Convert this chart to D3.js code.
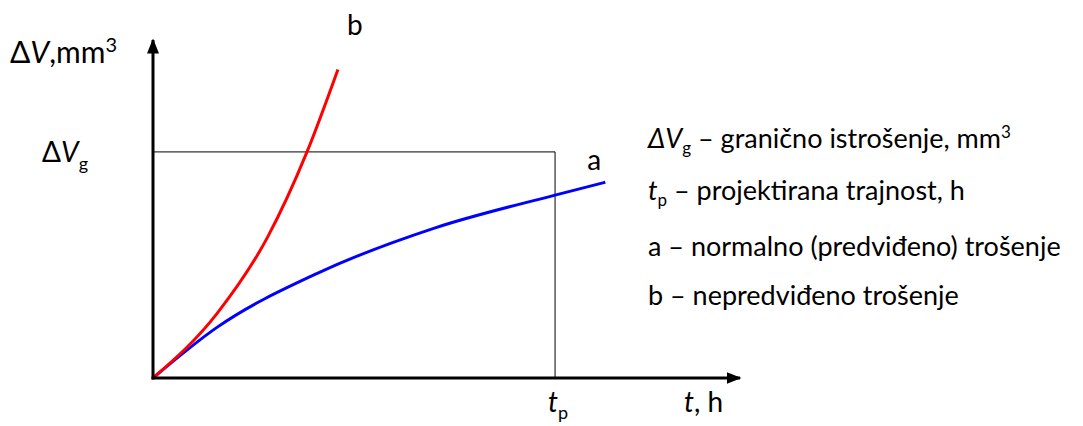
<!DOCTYPE html>
<html>
<head>
<meta charset="utf-8">
<script src="https://cdn.jsdelivr.net/npm/d3@7"></script>
<style>
  body { margin: 0; background: #fff; }
  text { font-family: Lato, "Open Sans", sans-serif; fill: #000; }
</style>
</head>
<body>
<div id="chart"></div>
<script>
// svg size
var svgWidth = 1083;
var svgHeight = 426;

// curve a - normal (expected) wear, t in units where tp = 10, V where Vg = 10
var tA = [0, 1.6, 4.1, 7.0, 10, 11.25];
var vA = [0, 2.25, 4.64, 6.63, 8.09, 8.66];

// curve b - unexpected wear
var tB = [0, 1.6, 2.85, 3.83, 4.6];
var vB = [0, 2.87, 6.23, 10, 13.65];

// marked levels
var tp = 10;
var Vg = 10;
var tMax = 14.6;
var vMax = 14.95;

var legendLines = [
  { sym: "ΔV", sub: "g", italic: true, rest: " – granično istrošenje, mm", sup: "3" },
  { sym: "t", sub: "p", italic: true, rest: " – projektirana trajnost, h" },
  { sym: "a", rest: " – normalno (predviđeno) trošenje" },
  { sym: "b", rest: " – nepredviđeno trošenje" }
];

var margin = { left: 153, top: 40, bottom: 48 };

var svg = d3.select("#chart")
  .append("svg")
  .attr("width", svgWidth)
  .attr("height", svgHeight);

var xScale = d3.scaleLinear().domain([0, tMax]).range([margin.left, 740]);
var yScale = d3.scaleLinear().domain([0, vMax]).range([svgHeight - margin.bottom, margin.top]);

// arrow heads
var defs = svg.append("defs");
defs.append("marker")
  .attr("id", "arrow")
  .attr("viewBox", "0 0 10 10")
  .attr("refX", 9).attr("refY", 5)
  .attr("markerWidth", 5).attr("markerHeight", 5)
  .attr("markerUnits", "strokeWidth")
  .attr("orient", "auto")
  .append("path")
  .attr("d", "M0,1 L10,5 L0,9 Z")
  .attr("fill", "#000");

// guide lines for tp and Vg
svg.append("path")
  .attr("d", "M" + xScale(0) + "," + yScale(Vg) + " H" + xScale(tp) + " V" + yScale(0))
  .attr("fill", "none")
  .attr("stroke", "#000")
  .attr("stroke-width", 1);

var line = d3.line()
  .x(d => xScale(d[0]))
  .y(d => yScale(d[1]))
  .curve(d3.curveMonotoneX);

svg.append("path")
  .datum(d3.zip(tA, vA))
  .attr("d", line)
  .attr("fill", "none")
  .attr("stroke", "#0000ff")
  .attr("stroke-width", 3);

svg.append("path")
  .datum(d3.zip(tB, vB))
  .attr("d", line)
  .attr("fill", "none")
  .attr("stroke", "#ff0000")
  .attr("stroke-width", 3);

// axes
svg.append("line")
  .attr("x1", xScale(0) - 1.5).attr("y1", yScale(0))
  .attr("x2", xScale(tMax)).attr("y2", yScale(0))
  .attr("stroke", "#000").attr("stroke-width", 3)
  .attr("marker-end", "url(#arrow)");

svg.append("line")
  .attr("x1", xScale(0)).attr("y1", yScale(0) + 1.5)
  .attr("x2", xScale(0)).attr("y2", yScale(vMax))
  .attr("stroke", "#000").attr("stroke-width", 3)
  .attr("marker-end", "url(#arrow)");

// axis labels
var fs = 28;
var yLab = svg.append("text").attr("x", 10).attr("y", 63).attr("font-size", 30);
yLab.append("tspan").text("Δ");
yLab.append("tspan").attr("font-style", "italic").text("V");
yLab.append("tspan").text(",mm");
yLab.append("tspan").attr("font-size", 20).attr("dy", -11).text("3");

var vgLab = svg.append("text").attr("x", 42).attr("y", yScale(Vg) + 10).attr("font-size", fs);
vgLab.append("tspan").text("Δ");
vgLab.append("tspan").attr("font-style", "italic").text("V");
vgLab.append("tspan").attr("font-size", 18).attr("dy", 8).text("g");

var tpLab = svg.append("text").attr("x", xScale(tp) - 7).attr("y", 412).attr("font-size", fs);
tpLab.append("tspan").attr("font-style", "italic").text("t");
tpLab.append("tspan").attr("font-size", 18).attr("dy", 7).text("p");

var tLab = svg.append("text").attr("x", 684).attr("y", 412).attr("font-size", fs);
tLab.append("tspan").attr("font-style", "italic").text("t");
tLab.append("tspan").text(", h");

// curve names
svg.append("text").attr("x", xScale(tB[tB.length - 1]) + 9).attr("y", 35)
  .attr("font-size", fs).text("b");
svg.append("text").attr("x", xScale(tA[tA.length - 1]) - 18).attr("y", yScale(vA[vA.length - 1]) - 12)
  .attr("font-size", fs).text("a");

// legend
var legBase = [148, 200, 256, 305];
legendLines.forEach(function(d, i) {
  var t = svg.append("text").attr("x", 648).attr("y", legBase[i]).attr("font-size", 27);
  if (d.sym === "ΔV") {
    t.append("tspan").attr("font-style", "italic").text("ΔV");
  } else {
    t.append("tspan").attr("font-style", d.italic ? "italic" : "normal").text(d.sym);
  }
  if (d.sub) {
    t.append("tspan").attr("font-size", 17).attr("dy", 6).text(d.sub);
    t.append("tspan").attr("dy", -6).text(d.rest);
  } else {
    t.append("tspan").text(d.rest);
  }
  if (d.sup) t.append("tspan").attr("font-size", 17).attr("dy", -10).text(d.sup);
});
</script>
</body>
</html>
